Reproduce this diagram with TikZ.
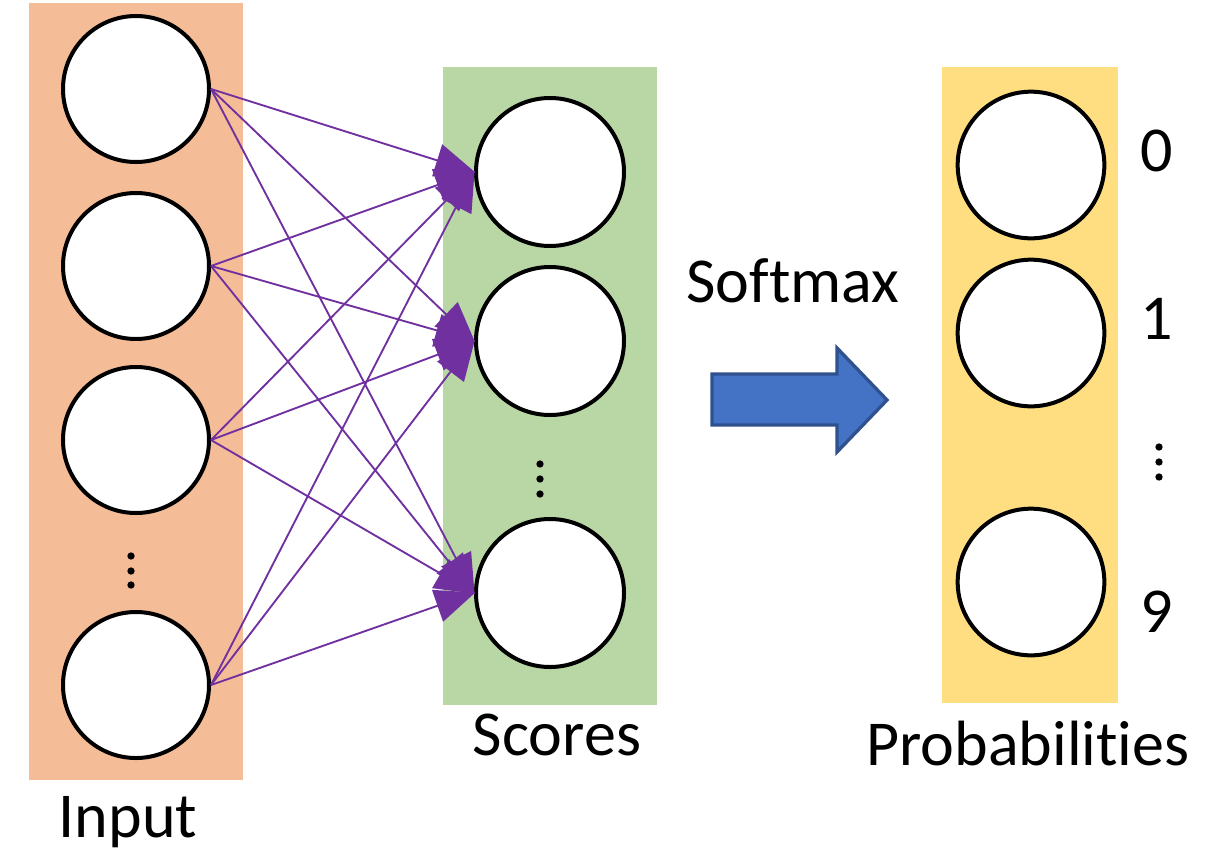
\documentclass[tikz,border=0pt]{standalone}
\usepackage{fontspec}
\setmainfont{Carlito}[Ligatures={NoCommon}, Contextuals={NoAlternate}]
\usetikzlibrary{arrows.meta}
\definecolor{inorange}{HTML}{F4BC97}
\definecolor{scgreen}{HTML}{B9D7A5}
\definecolor{pryellow}{HTML}{FFDE82}
\definecolor{conpurple}{HTML}{7030A0}
\definecolor{arrblue}{HTML}{4472C4}
\definecolor{arrblueline}{HTML}{2F528F}
\tikzset{
  neuron/.style={circle, draw=black, line width=3pt, fill=white, inner sep=0pt, minimum size=#1},
  conn/.style={draw=conpurple, line width=1.4pt, -{Triangle[length=30pt,width=25pt]}, shorten >=-1pt},
  lbl/.style={font=\fontsize{48}{52}\selectfont, anchor=base, inner sep=0pt},
  vdot/.style={circle, fill=black, inner sep=0pt, minimum size=5.5pt}
}
\begin{document}
\begin{tikzpicture}[x=0.75pt,y=-0.75pt]
\useasboundingbox (0,0) rectangle (1205,857);
% column backgrounds
\fill[inorange] (29,3) rectangle (243,780);
\fill[scgreen] (443,67) rectangle (657,705);
\fill[pryellow] (942,67) rectangle (1118,703);
% input neurons
\node[neuron=109.5pt] (i1) at (136,89) {};
\node[neuron=109.5pt] (i2) at (136,266) {};
\node[neuron=109.5pt] (i3) at (136,440) {};
\node[neuron=109.5pt] (i4) at (136,685) {};
% score neurons
\node[neuron=111pt] (s1) at (550,172) {};
\node[neuron=111pt] (s2) at (550,341) {};
\node[neuron=111pt] (s3) at (550,593) {};
% probability neurons
\node[neuron=110pt] (p1) at (1031,165) {};
\node[neuron=110pt] (p2) at (1031,333) {};
\node[neuron=110pt] (p3) at (1031,582) {};
% vertical dots
\foreach \y [count=\k] in {556,571,585} \node[vdot] (di\k) at (131,\y) {};
\foreach \y [count=\k] in {464,479,494} \node[vdot] (ds\k) at (540,\y) {};
\foreach \y [count=\k] in {447,462,477} \node[vdot] (dp\k) at (1159,\y) {};
% connections
\foreach \a in {1,2,3,4}{
  \foreach \b in {1,2,3}{
    \draw[conn] (i\a.east) -- (s\b.west);
  }
}
% softmax arrow
\draw[arrblueline, fill=arrblue, line width=2.5pt, line join=miter]
  (712,374) -- (837,374) -- (837,348) -- (887,400) -- (837,452) -- (837,425) -- (712,425) -- cycle;
% labels
\node[lbl] (tin) at (128,837) {Input};
\node[lbl] (tsc) at (557,755) {Scores};
\node[lbl] (tsm) at (793,302) {Softmax};
\node[lbl] (tpr) at (1028,765) {Probabilities};
\node[lbl] (t0) at (1157,171) {0};
\node[lbl] (t1) at (1157,339) {1};
\node[lbl] (t9) at (1157,632) {9};
\end{tikzpicture}
\end{document}
